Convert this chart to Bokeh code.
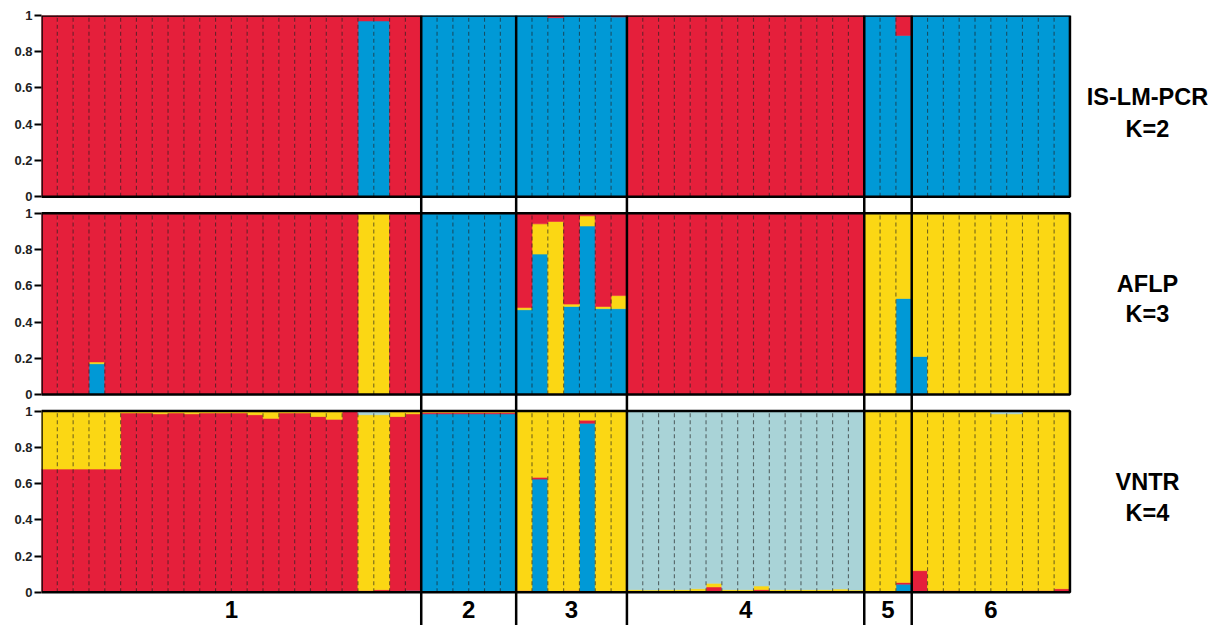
from bokeh.plotting import figure
from bokeh.models import Range1d, FixedTicker, ColumnDataSource
from bokeh.embed import file_html
from bokeh.resources import INLINE
from bokeh.core.properties import value

# ---------------- data ----------------
groups = ["1", "2", "3", "4", "5", "6"]
group_sizes = [24, 6, 7, 15, 3, 10]
tick_values = [0, 0.2, 0.4, 0.6, 0.8, 1]
tick_labels = ["0", "0.2", "0.4", "0.6", "0.8", "1"]
panel_names = [("IS-LM-PCR", "K=2"), ("AFLP", "K=3"), ("VNTR", "K=4")]

# IS-LM-PCR, K=2 (stack order bottom->top: blue, red)
k2_blue = [0, 0, 0, 0, 0, 0, 0, 0, 0, 0, 0, 0, 0, 0, 0, 0, 0, 0, 0, 0, 0.97, 0.97, 0, 0,
           1, 1, 1, 1, 1, 1,
           1, 1, 0.988, 1, 1, 1, 0.992,
           0, 0, 0, 0, 0, 0, 0, 0, 0, 0, 0, 0, 0, 0, 0,
           1, 1, 0.89,
           1, 1, 1, 1, 1, 1, 1, 1, 1, 1]
k2_red = [1, 1, 1, 1, 1, 1, 1, 1, 1, 1, 1, 1, 1, 1, 1, 1, 1, 1, 1, 1, 0.03, 0.03, 1, 1,
          0, 0, 0, 0, 0, 0,
          0, 0, 0.012, 0, 0, 0, 0.008,
          1, 1, 1, 1, 1, 1, 1, 1, 1, 1, 1, 1, 1, 1, 1,
          0, 0, 0.11,
          0, 0, 0, 0, 0, 0, 0, 0, 0, 0]

# AFLP, K=3 (bottom->top: blue, yellow, red)
k3_blue = [0, 0, 0, 0.17, 0, 0, 0, 0, 0, 0, 0, 0, 0, 0, 0, 0, 0, 0, 0, 0, 0, 0, 0, 0,
           1, 1, 1, 1, 1, 1,
           0.468, 0.775, 0, 0.486, 0.93, 0.474, 0.474,
           0, 0, 0, 0, 0, 0, 0, 0, 0, 0, 0, 0, 0, 0, 0,
           0, 0, 0.53,
           0.21, 0, 0, 0, 0, 0, 0, 0, 0, 0]
k3_yellow = [0, 0, 0, 0.01, 0, 0, 0, 0, 0, 0, 0, 0, 0, 0, 0, 0, 0, 0, 0, 0, 1, 1, 0, 0,
             0, 0, 0, 0, 0, 0,
             0.012, 0.167, 0.955, 0.013, 0.056, 0.012, 0.072,
             0, 0, 0, 0, 0, 0, 0, 0, 0, 0, 0, 0, 0, 0, 0,
             1, 1, 0.47,
             0.79, 1, 1, 1, 1, 1, 1, 1, 1, 1]
k3_red = [1, 1, 1, 0.82, 1, 1, 1, 1, 1, 1, 1, 1, 1, 1, 1, 1, 1, 1, 1, 1, 0, 0, 1, 1,
          0, 0, 0, 0, 0, 0,
          0.52, 0.058, 0.045, 0.501, 0.014, 0.514, 0.454,
          1, 1, 1, 1, 1, 1, 1, 1, 1, 1, 1, 1, 1, 1, 1,
          0, 0, 0,
          0, 0, 0, 0, 0, 0, 0, 0, 0, 0]

# VNTR, K=4 (bottom->top: blue, red, yellow, light blue)
k4_blue = [0, 0, 0, 0, 0, 0, 0, 0, 0, 0, 0, 0, 0, 0, 0, 0, 0, 0, 0, 0, 0, 0, 0, 0.01,
           0.985, 0.985, 0.985, 0.985, 0.985, 0.985,
           0, 0.625, 0, 0, 0.933, 0, 0,
           0, 0, 0, 0, 0, 0, 0, 0, 0, 0, 0, 0, 0, 0, 0,
           0, 0, 0.045,
           0, 0, 0, 0, 0, 0, 0, 0, 0, 0]
k4_red = [0.68, 0.68, 0.68, 0.68, 0.68, 0.99, 0.99, 0.985, 0.99, 0.985, 0.99, 0.99, 0.99,
          0.98, 0.96, 0.99, 0.99, 0.97, 0.955, 1.0, 0.01, 0.015, 0.97, 0.975,
          0.008, 0.008, 0.008, 0.008, 0.008, 0.008,
          0.01, 0.01, 0.005, 0.01, 0.017, 0.005, 0.005,
          0.005, 0.005, 0.005, 0.005, 0.005, 0.03, 0.005, 0.005, 0.015, 0.005, 0.005, 0.005,
          0.005, 0.008, 0.005,
          0, 0, 0.01,
          0.12, 0.01, 0.01, 0.005, 0.005, 0.005, 0.005, 0.01, 0.01, 0.02]
k4_yellow = [0.32, 0.32, 0.32, 0.32, 0.32, 0.01, 0.01, 0.015, 0.01, 0.015, 0.01, 0.01, 0.01,
             0.02, 0.04, 0.01, 0.01, 0.03, 0.045, 0, 0.97, 0.965, 0.03, 0.015,
             0.007, 0.007, 0.007, 0.007, 0.007, 0.007,
             0.99, 0.365, 0.995, 0.99, 0.05, 0.995, 0.995,
             0.01, 0.008, 0.01, 0.01, 0.015, 0.02, 0.01, 0.01, 0.02, 0.01, 0.01, 0.01,
             0.01, 0.01, 0.008,
             1, 1, 0.945,
             0.88, 0.99, 0.99, 0.995, 0.995, 0.98, 0.98, 0.99, 0.99, 0.98]
k4_lightblue = [0, 0, 0, 0, 0, 0, 0, 0, 0, 0, 0, 0, 0, 0, 0, 0, 0, 0, 0, 0, 0.02, 0.02, 0, 0,
                0, 0, 0, 0, 0, 0,
                0, 0, 0, 0, 0, 0, 0,
                0.985, 0.987, 0.985, 0.985, 0.98, 0.95, 0.985, 0.985, 0.965, 0.985, 0.985,
                0.985, 0.985, 0.982, 0.987,
                0, 0, 0,
                0, 0, 0, 0, 0, 0.015, 0.015, 0, 0, 0]

RED = "#e51f3b"
BLUE = "#0099d6"
YELLOW = "#fbd714"
LIGHTBLUE = "#a9d3d7"

panels = [
    [(k2_blue, BLUE), (k2_red, RED)],
    [(k3_blue, BLUE), (k3_yellow, YELLOW), (k3_red, RED)],
    [(k4_blue, BLUE), (k4_red, RED), (k4_yellow, YELLOW), (k4_lightblue, LIGHTBLUE)],
]

# ---------------- layout (pixel geometry of the figure) ----------------
W, H = 1214, 625
SX, SY = W / 1230.0, H / 641.0
LEFT = 41
UNIT = 186.0 * SY          # px per panel height
GAP_PX = 17.0 * SY
PAD_PX = 34.0 * SY
TOP = H - (3 * UNIT + 2 * GAP_PX + PAD_PX)
GAP = GAP_PX / UNIT
n_ind = sum(group_sizes)
px_per_ind = (1042.0 * SX) / n_ind
x_end = (W - LEFT) / px_per_ind
y_start = -PAD_PX / UNIT
y_end = 3 + 2 * GAP


def py(px_from_top):
    """figure pixel row (from top) -> data y"""
    return y_end - (px_from_top - TOP) / UNIT


def px(px_from_left):
    return (px_from_left - LEFT) / px_per_ind


offsets = [2 * (1 + GAP), 1 + GAP, 0.0]   # top panel first

p = figure(width=W, height=H, output_backend="svg", toolbar_location=None,
           x_range=Range1d(0, x_end), y_range=Range1d(y_start, y_end),
           x_axis_location=None, y_axis_location="left",
           min_border_left=LEFT, min_border_right=0,
           min_border_top=int(round(TOP)), min_border_bottom=0)
p.outline_line_color = None
p.grid.visible = False
p.background_fill_color = "white"
p.border_fill_color = "white"

# stacked bars
for off, comps in zip(offsets, panels):
    base = [off] * n_ind
    for vals, col in comps:
        l, r, b, t = [], [], [], []
        for i, v in enumerate(vals):
            if v > 0:
                l.append(i); r.append(i + 1); b.append(base[i]); t.append(base[i] + v)
            base[i] = base[i] + v
        src = ColumnDataSource(dict(left=l, right=r, bottom=b, top=t))
        p.quad(left="left", right="right", bottom="bottom", top="top", source=src,
               fill_color=col, line_color=col, line_width=0.6)

# dashed individual separators
bounds = []
acc = 0
for s in group_sizes:
    acc += s
    bounds.append(acc)
internal = [i for i in range(1, n_ind) if i not in bounds]
for off in offsets:
    p.segment(x0=internal, y0=[off] * len(internal), x1=internal, y1=[off + 1] * len(internal),
              line_color="#1a1a1a", line_alpha=0.6, line_width=1.1, line_dash="4 3")

# panel frames
p.quad(left=[0] * 3, right=[n_ind] * 3, bottom=offsets, top=[o + 1 for o in offsets],
       fill_color=None, line_color="black", line_width=2.5)

# population separators (through whole figure)
sep = bounds[:-1]
p.segment(x0=sep, y0=[y_start] * len(sep), x1=sep, y1=[offsets[0] + 1] * len(sep),
          line_color="black", line_width=2.5)

# population labels
starts = [b - s for b, s in zip(bounds, group_sizes)]
centers = [(a + b) / 2 for a, b in zip(starts, bounds)]
p.text(x=centers, y=[py(609.0)] * len(groups), text=groups,
       text_font=value("Liberation Sans"), text_font_style="bold", text_font_size="24px",
       text_align="center", text_baseline="middle", text_color="black")

# panel titles on the right
title_x = px(1147.0)
title_rows = [(96.5, 128.5), (283.0, 313.5), (481.5, 512.0)]
for (t1, t2), (r1, r2) in zip(panel_names, title_rows):
    p.text(x=[title_x], y=[py(r1)], text=[t1], text_font=value("Liberation Sans"),
           text_font_style="bold", text_font_size="23.5px", text_align="center",
           text_baseline="middle", text_color="black")
    p.text(x=[title_x], y=[py(r2)], text=[t2], text_font=value("Liberation Sans"),
           text_font_style="bold", text_font_size="23.5px", text_align="center",
           text_baseline="middle", text_color="black")

# y axis: 0..1 for every panel
ticks = []
overrides = {}
for off in offsets:
    for v, lab in zip(tick_values, tick_labels):
        tv = off + v
        ticks.append(tv)
        overrides[tv] = lab
ax = p.yaxis[0]
ax.ticker = FixedTicker(ticks=ticks)
ax.major_label_overrides = overrides
ax.axis_line_color = None
ax.major_tick_in = 0
ax.major_tick_out = 7
ax.major_tick_line_width = 2
ax.major_tick_line_color = "black"
ax.minor_tick_line_color = None
ax.major_label_standoff = 2
ax.major_label_text_font = "Liberation Sans"
ax.major_label_text_font_style = "bold"
ax.major_label_text_font_size = "13px"
ax.major_label_text_color = "#222222"

open("out.html", "w").write(file_html(p, INLINE))
